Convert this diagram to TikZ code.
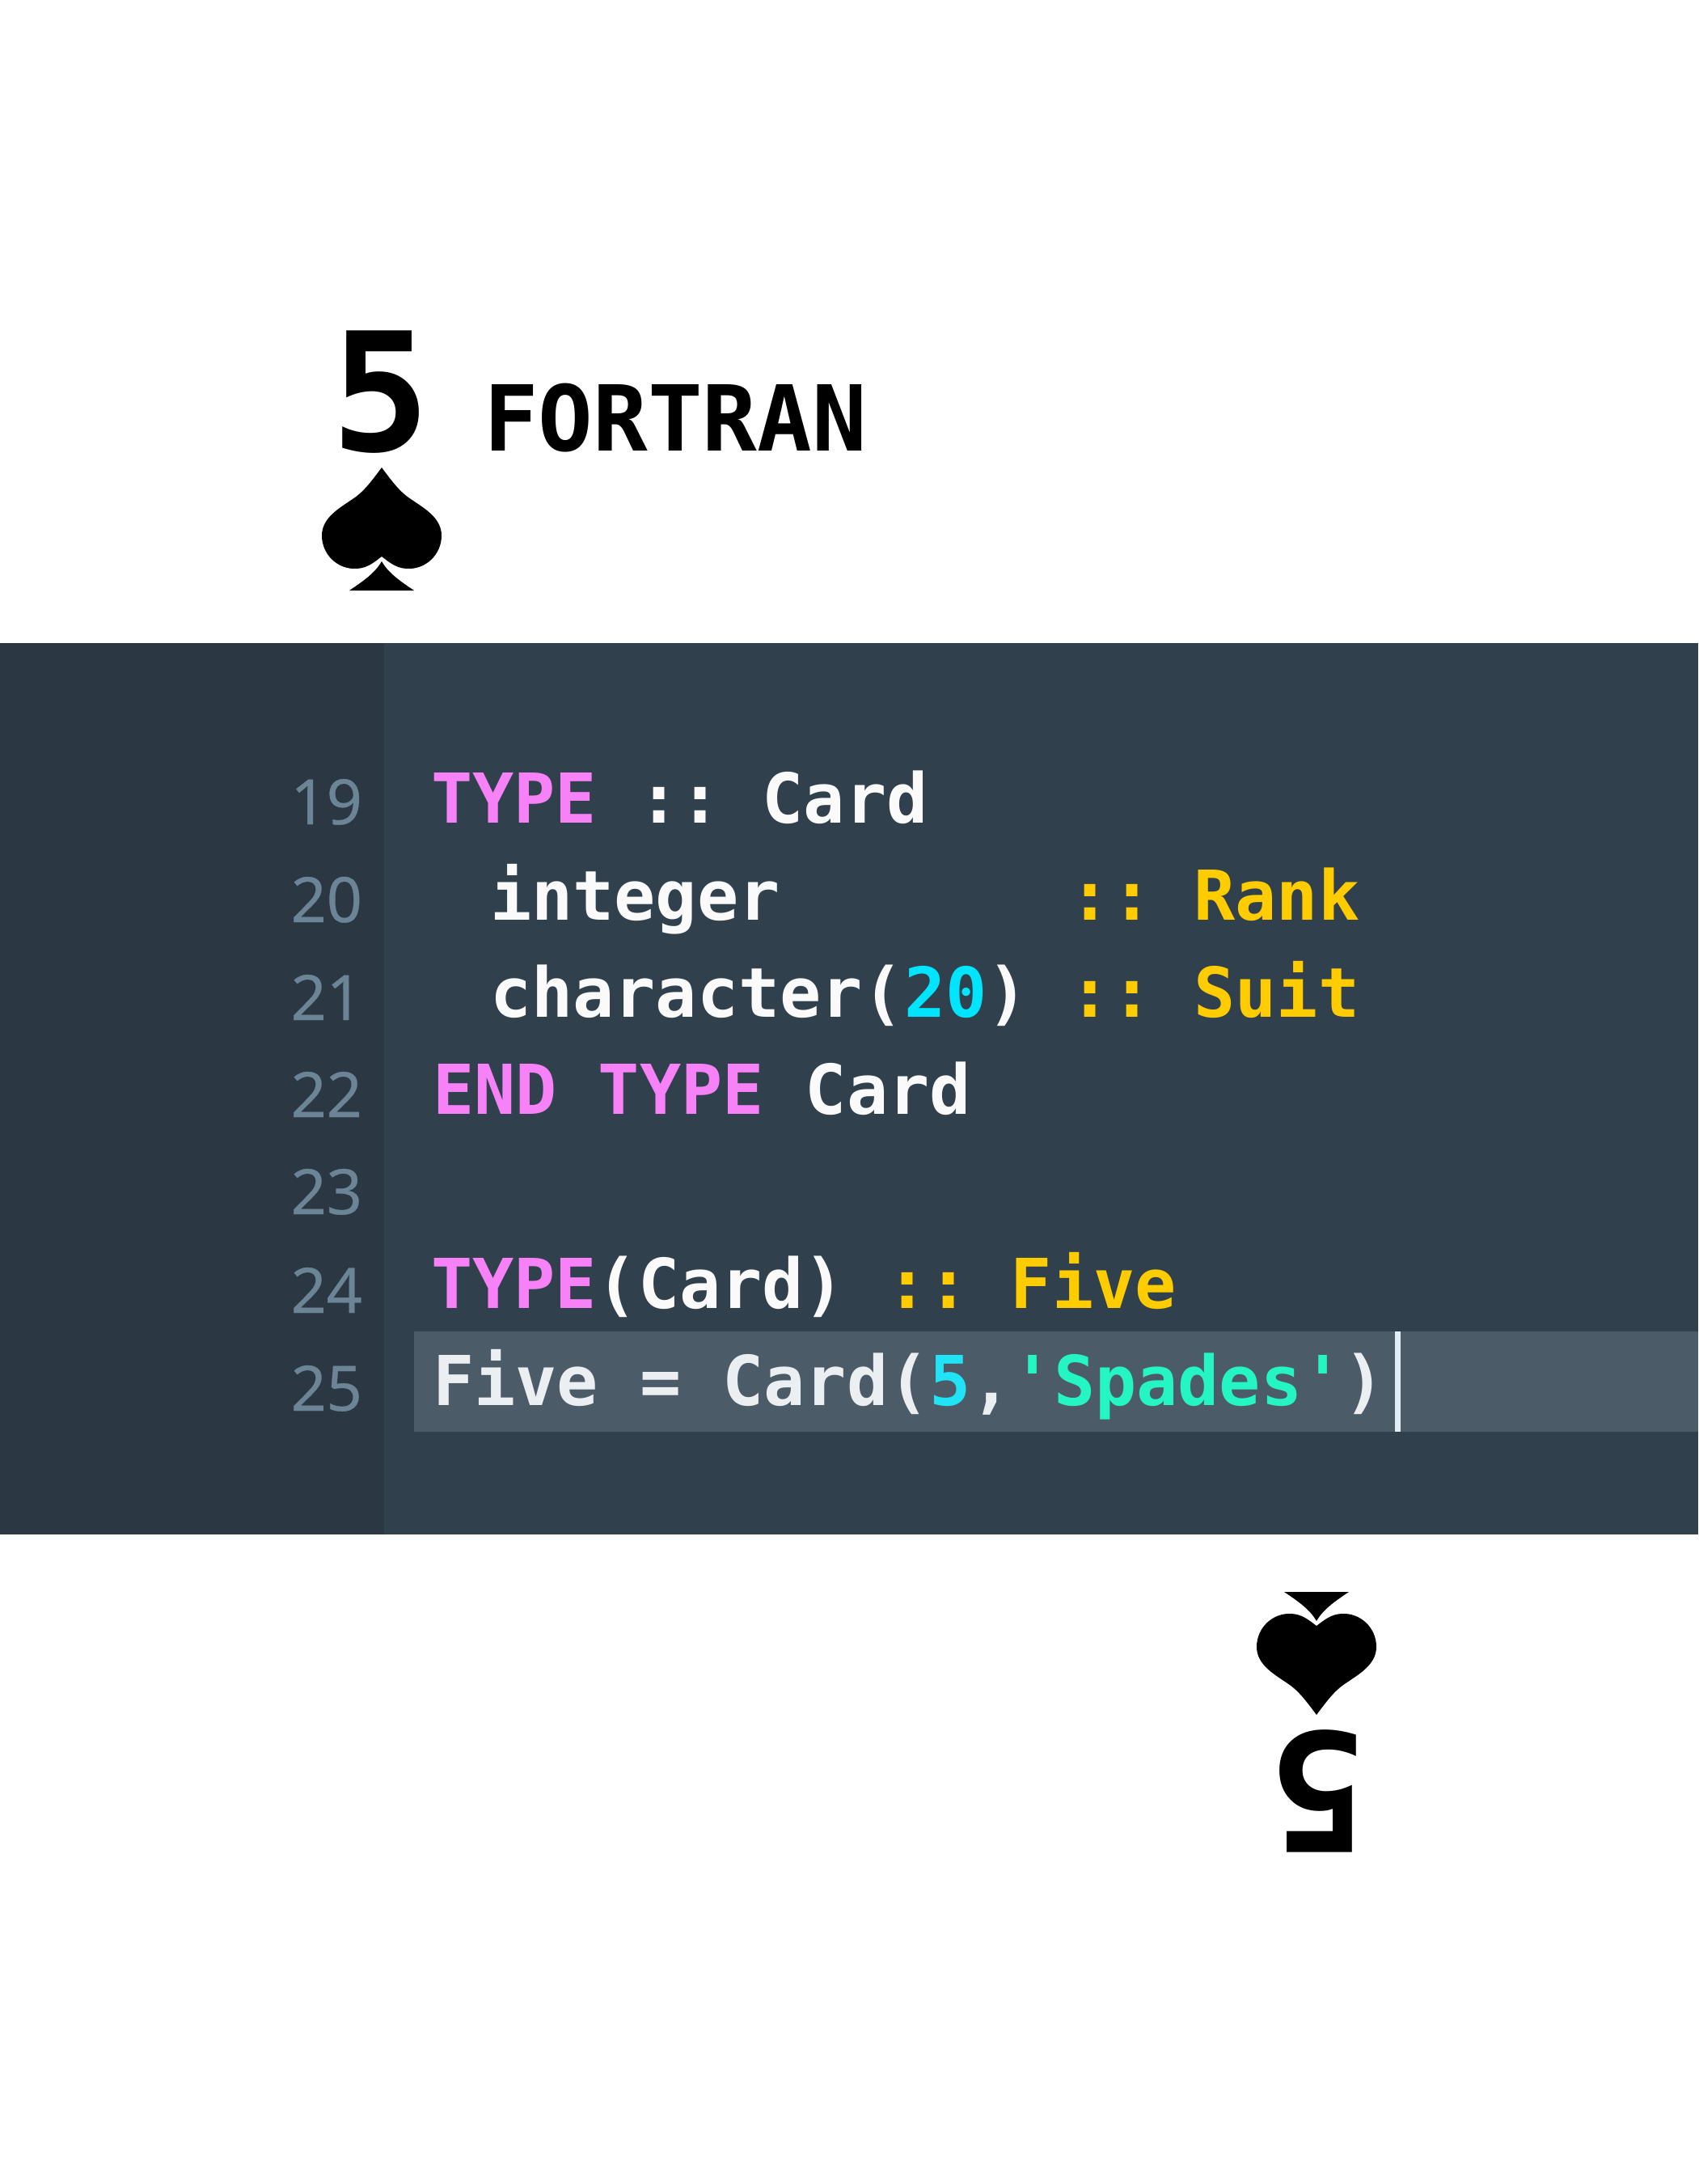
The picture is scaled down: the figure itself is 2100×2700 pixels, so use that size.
\documentclass[tikz,border=0pt]{standalone}
\usepackage{fontspec}
\usepackage{tikz}
\newfontfamily\codefont{DejaVu Sans Mono}
\newfontfamily\gutterfont[FakeBold=0.4]{Noto Sans}
\definecolor{cardink}{HTML}{000000}
\definecolor{edpanel}{HTML}{31404D}
\definecolor{edgutter}{HTML}{2B3843}
\definecolor{edline}{HTML}{4C5B68}
\definecolor{edcaret}{HTML}{E3EDF5}
\definecolor{ednum}{HTML}{6C8596}
\definecolor{edtext}{HTML}{FAFAFA}
\definecolor{edtextB}{HTML}{ECEFF1}
\definecolor{edkey}{HTML}{F782F7}
\definecolor{edname}{HTML}{FFCC00}
\definecolor{edint}{HTML}{00E5FF}
\definecolor{edintB}{HTML}{20E3F5}
\definecolor{edstr}{HTML}{24F5C2}
\newcommand{\kw}[1]{\textcolor{edkey}{#1}}
\newcommand{\nm}[1]{\textcolor{edname}{#1}}
\tikzset{
  tx/.style={inner sep=0pt, outer sep=0pt},
  code/.style={tx, anchor=base west, text=edtext, font=\codefont\bfseries\frenchspacing\fontsize{24.2}{28}\selectfont},
  num/.style={tx, anchor=base east, text=ednum, font=\gutterfont\fontsize{22}{26}\selectfont},
  rank/.style={tx, anchor=base, text=cardink, font=\codefont\bfseries\fontsize{58}{60}\selectfont},
  title/.style={tx, anchor=base west, text=cardink, font=\codefont\bfseries\fontsize{32}{34}\selectfont},
  spadepip/.pic={
    \fill[cardink] (0,0) .. controls (12,16) and (22,30) .. (36,39)
      .. controls (52,50) and (74,62) .. (74,84)
      .. controls (74,108) and (54,126) .. (32,125)
      .. controls (18,125) and (8,116) .. (0,110)
      .. controls (-8,116) and (-18,125) .. (-32,125)
      .. controls (-54,126) and (-74,108) .. (-74,84)
      .. controls (-74,62) and (-52,50) .. (-36,39)
      .. controls (-22,30) and (-12,16) .. (0,0) -- cycle;
    \fill[cardink] (0,116) .. controls (8,130) and (22,140) .. (40,152)
      -- (-40,152) .. controls (-22,140) and (-8,130) .. (0,116) -- cycle;
  },
}
\begin{document}
\begin{tikzpicture}[x=0.1mm, y=-0.1mm]
  \useasboundingbox (0,0) rectangle (2100,2700);
  % editor panel
  \fill[edpanel] (0,795) rectangle (2100,1897);
  \fill[edgutter] (0,795) rectangle (475,1897);
  \fill[edline] (512,1646) rectangle (2100,1770);
  \fill[edcaret] (1725,1646) rectangle (1732,1770);
  % card corners
  \node[rank] (rankTop) at (471,557) {5};
  \node[rank, rotate=180] (rankBot) at (1630,2141) {5};
  \node[title] (lang) at (598,557) {FORTRAN};
  \pic at (472,578) {spadepip};
  \pic[rotate=180] at (1628,2120) {spadepip};
  % line numbers
  \foreach \n/\y in {19/1019, 20/1140, 21/1261, 22/1381, 23/1501, 24/1623, 25/1744}
    \node[num] (num\n) at (448,\y) {\n};
  % code
  \node[code] (line19) at (533,1017) {\kw{TYPE} :: Card};
  \node[code] (line20) at (606,1137) {integer~~~~~~~\nm{:: Rank}};
  \node[code] (line21) at (606,1257) {character(\textcolor{edint}{20}) \nm{:: Suit}};
  \node[code] (line22) at (535,1377) {\kw{END} \kw{TYPE} Card};
  \node[code] (line24) at (533,1617) {\kw{TYPE}(Card) \nm{:: Five}};
  \node[code, text=edtextB] (line25) at (535,1737) {Five = Card(\textcolor{edintB}{5},\textcolor{edstr}{'Spades'})};
\end{tikzpicture}
\end{document}
